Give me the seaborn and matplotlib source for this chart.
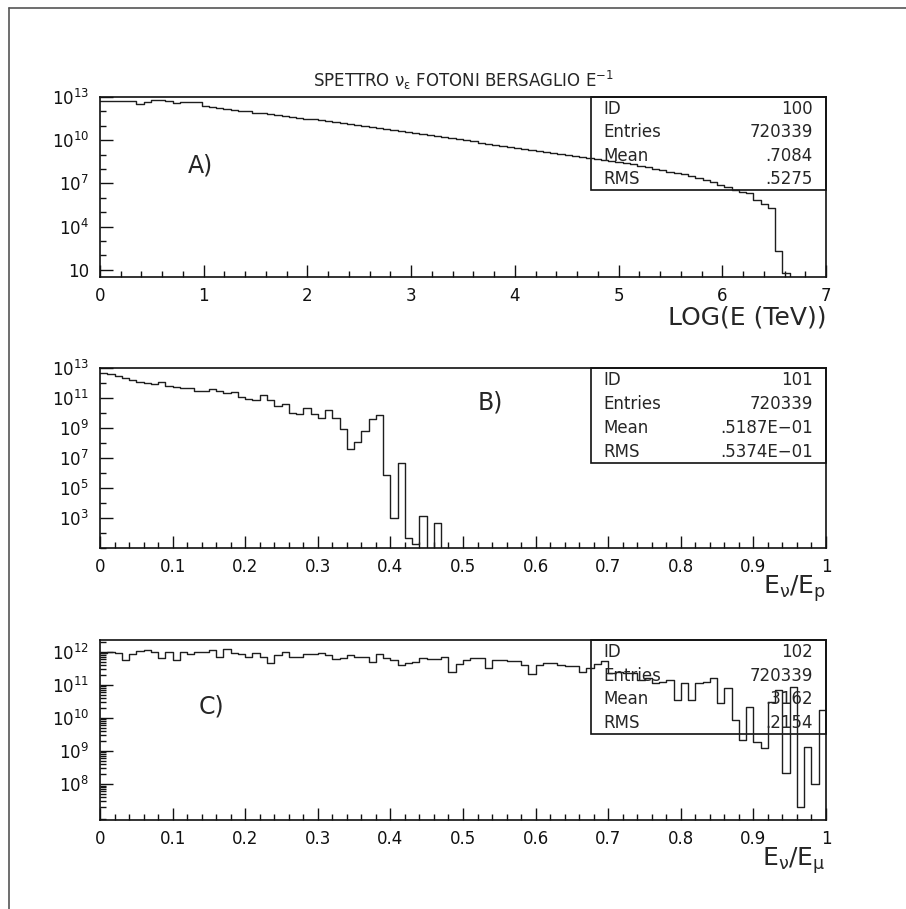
import numpy as np
import pandas as pd
import matplotlib
matplotlib.use("Agg")
import matplotlib.pyplot as plt
from matplotlib.patches import Rectangle
from matplotlib.lines import Line2D
from matplotlib.ticker import FixedLocator, FuncFormatter, MultipleLocator
import seaborn as sns

# %%
# data (log10 of bin contents, 100 bins each, nan = empty)

title = r"SPETTRO $\nu_\varepsilon$ FOTONI BERSAGLIO E$^{-1}$"

logE_range = (0.0, 7.0)
logE_log10 = [
    12.72, 12.70, 12.72, 12.70, 12.72, 12.51, 12.67, 12.80, 12.80, 12.72,
    12.60, 12.67, 12.66, 12.67, 12.37, 12.33, 12.25, 12.15, 12.12, 12.03,
    12.00, 11.90, 11.86, 11.80, 11.75, 11.70, 11.60, 11.57, 11.47, 11.44,
    11.37, 11.30, 11.25, 11.17, 11.13, 11.03, 10.99, 10.93, 10.85, 10.80,
    10.72, 10.65, 10.58, 10.50, 10.42, 10.35, 10.27, 10.20, 10.13, 10.06,
    9.98, 9.91, 9.84, 9.76, 9.69, 9.62, 9.54, 9.47, 9.40, 9.32,
    9.25, 9.18, 9.10, 9.03, 8.96, 8.88, 8.81, 8.74, 8.68, 8.62,
    8.55, 8.50, 8.40, 8.33, 8.22, 8.13, 8.03, 7.93, 7.82, 7.72,
    7.62, 7.52, 7.40, 7.27, 7.10, 6.92, 6.75, 6.54, 6.40, 6.36,
    5.85, 5.57, 5.31, 2.30, 0.76, np.nan, np.nan, np.nan, np.nan, np.nan,
]

ratio_p_log10 = [
    12.69, 12.58, 12.47, 12.31, 12.20, 12.09, 12.02, 11.93, 12.09, 11.82,
    11.71, 11.64, 11.69, 11.49, 11.49, 11.58, 11.49, 11.31, 11.42, 11.04,
    10.93, 10.87, 11.20, 10.87, 10.49, 10.58, 10.02, 9.91, 10.36, 9.91,
    9.64, 10.20, 9.69, 8.91, 7.60, 8.04, 8.82, 9.60, 9.87, 5.87,
    2.98, 6.64, 1.64, 1.25, 3.13, np.nan, 2.69,
] + [np.nan] * 53

ratio_mu_log10 = [
    11.96, 12.01, 11.96, 11.76, 11.94, 12.03, 12.06, 11.99, 11.81, 11.99,
    11.76, 12.01, 11.94, 11.99, 12.01, 12.06, 11.84, 12.08, 11.96, 11.94,
    11.86, 11.96, 11.86, 11.66, 11.91, 12.01, 11.86, 11.84, 11.93, 11.93,
    11.98, 11.91, 11.78, 11.81, 11.91, 11.86, 11.84, 11.68, 11.93, 11.81,
    11.76, 11.61, 11.66, 11.68, 11.81, 11.78, 11.78, 11.84, 11.40, 11.63,
    11.76, 11.81, 11.81, 11.51, 11.76, 11.76, 11.73, 11.73, 11.61, 11.33,
    11.61, 11.66, 11.66, 11.61, 11.56, 11.56, 11.40, 11.51, 11.63, 11.73,
    11.35, 11.40, 11.35, 11.35, 11.15, 11.20, 11.05, 11.10, 11.15, 10.55,
    11.06, 10.55, 11.06, 11.10, 11.21, 10.45, 10.90, 9.94, 9.33, 10.34,
    9.28, 9.08, 10.49, 10.85, 8.32, 10.95, 7.30, 9.13, 8.00, 10.24,
]

hist_ids = ["100", "101", "102"]
entries = ["720339", "720339", "720339"]
means = [".7084", ".5187E\u221201", ".3162"]
rmss = [".5275", ".5374E\u221201", ".2154"]
panel_tags = ["A)", "B)", "C)"]
x_labels = ["LOG(E (TeV))", r"E$_\nu$/E$_{\rm p}$", r"E$_\nu$/E$_\mu$"]

# %%
sns.set_style("white")
plt.rcParams["font.family"] = ["DejaVu Sans"]
plt.rcParams["mathtext.default"] = "regular"

W, H = 906, 909
fig = plt.figure(figsize=(W / 100, H / 100), dpi=100)

def box(top, bottom):
    return [100 / W, 1 - bottom / H, 726 / W, (bottom - top) / H]

def pow10(e):
    e = int(round(np.log10(e)))
    return "10" if e == 1 else r"$10^{%d}$" % e

def draw_hist(ax, logs, lo, hi):
    vals = np.array(logs, dtype=float)
    w = np.where(np.isnan(vals), 0.0, np.power(10.0, np.nan_to_num(vals)))
    edges = np.linspace(lo, hi, len(vals) + 1)
    df = pd.DataFrame({"x": 0.5 * (edges[:-1] + edges[1:]), "w": w})
    sns.histplot(data=df, x="x", weights="w", bins=list(edges), element="step", fill=False,
                 color="#1e1e1e", linewidth=1.0, ax=ax)
    ax.set_yscale("log")

def style(ax, ymin, ymax, ymajor, yminor, xmaj, xmin_step, xfmt):
    ax.set_ylim(ymin, ymax)
    ax.yaxis.set_major_locator(FixedLocator(ymajor))
    ax.yaxis.set_minor_locator(FixedLocator(yminor))
    ax.yaxis.set_major_formatter(FuncFormatter(lambda v, p: pow10(v)))
    ax.yaxis.set_minor_formatter(FuncFormatter(lambda v, p: ""))
    ax.xaxis.set_major_locator(MultipleLocator(xmaj))
    ax.xaxis.set_minor_locator(MultipleLocator(xmin_step))
    ax.xaxis.set_major_formatter(FuncFormatter(xfmt))
    ax.tick_params(which="both", direction="in", bottom=True, left=True, top=False, right=False,
                   width=1.0, colors="#111111", labelsize=12)
    ax.tick_params(which="major", length=9)
    ax.tick_params(which="minor", length=4.5)
    ax.tick_params(axis="x", pad=7)
    ax.tick_params(axis="y", pad=8)
    for s in ax.spines.values():
        s.set_linewidth(1.2)
        s.set_color("#111111")
    ax.set_xlabel("")
    ax.set_ylabel("")

def stats(ax, frac_h, i):
    y0 = 1 - frac_h
    ax.add_patch(Rectangle((0.676, y0), 0.324, frac_h, transform=ax.transAxes,
                           fill=False, edgecolor="#111111", linewidth=1.2, clip_on=False))
    rows = [("ID", hist_ids[i]), ("Entries", entries[i]), ("Mean", means[i]), ("RMS", rmss[i])]
    for k, (lab, val) in enumerate(rows):
        yy = 1 - frac_h * (0.13 + 0.25 * k)
        ax.text(0.693, yy, lab, transform=ax.transAxes, ha="left", va="center", fontsize=12)
        ax.text(0.982, yy, val, transform=ax.transAxes, ha="right", va="center", fontsize=12)

def fmt_int(v, p):
    return "%d" % round(v)

def fmt_frac(v, p):
    if abs(v) < 1e-9:
        return "0"
    if abs(v - 1) < 1e-9:
        return "1"
    return "%.1f" % v

# panel A
axA = fig.add_axes(box(97, 277))
draw_hist(axA, logE_log10, *logE_range)
axA.set_xlim(*logE_range)
style(axA, 10 ** 0.5, 10 ** 13, [1e1, 1e4, 1e7, 1e10, 1e13],
      [10.0 ** k for k in range(1, 14)], 1, 0.2, fmt_int)
stats(axA, 93 / 180, 0)

# panel B
axB = fig.add_axes(box(368, 548))
draw_hist(axB, ratio_p_log10, 0, 1)
axB.set_xlim(0, 1)
style(axB, 10 ** 1, 10 ** 13, [1e3, 1e5, 1e7, 1e9, 1e11, 1e13],
      [10.0 ** k for k in range(1, 14)], 0.1, 0.02, fmt_frac)
stats(axB, 95 / 180, 1)

# panel C
axC = fig.add_axes(box(640, 820))
draw_hist(axC, ratio_mu_log10, 0, 1)
axC.set_xlim(0, 1)
minors_c = [m * 10.0 ** k for k in range(6, 13) for m in range(2, 10)]
style(axC, 10 ** 6.91, 10 ** 12.36, [1e8, 1e9, 1e10, 1e11, 1e12], minors_c, 0.1, 0.02, fmt_frac)
stats(axC, 94 / 180, 2)

# panel tags and axis titles
for ax, tag, pos in zip([axA, axB, axC], panel_tags, [(0.138, 0.622), (0.537, 0.806), (0.153, 0.633)]):
    ax.text(pos[0], pos[1], tag, transform=ax.transAxes, ha="center", va="center", fontsize=17)
for ax, lab in zip([axA, axB, axC], x_labels):
    ax.text(1.0, -0.225, lab, transform=ax.transAxes, ha="right", va="center", fontsize=18)

fig.text(463 / W, 1 - 80 / H, title, ha="center", va="center", fontsize=12)

# outer frame (left and top edges)
fig.add_artist(Line2D([9 / W, 9 / W], [0, 1 - 8 / H], transform=fig.transFigure, color="#555555", lw=1.2))
fig.add_artist(Line2D([9 / W, 1], [1 - 8 / H, 1 - 8 / H], transform=fig.transFigure, color="#555555", lw=1.2))

fig.savefig("out.png", dpi=100)
